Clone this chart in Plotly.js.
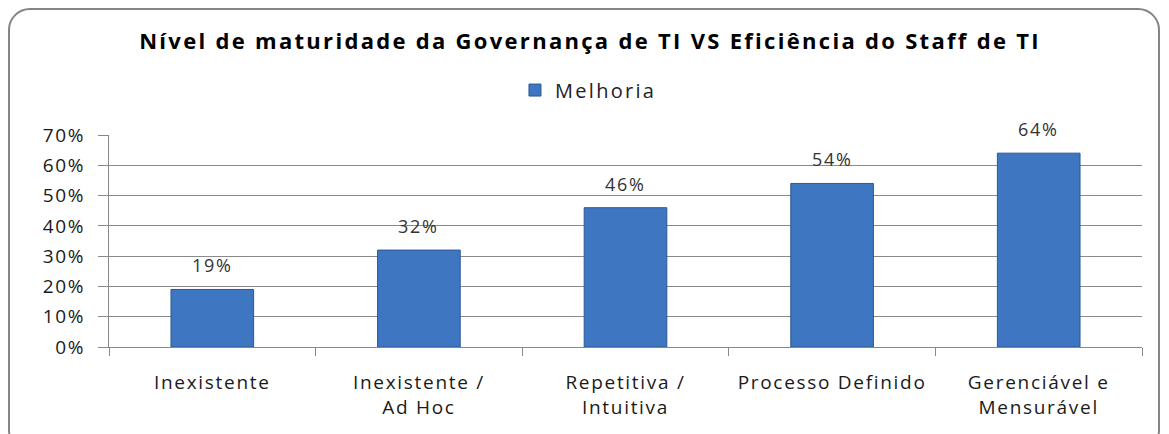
<!DOCTYPE html>
<html><head><meta charset="utf-8">
<script src="https://cdn.plot.ly/plotly-3.0.1.min.js"></script>
<style>
html,body{margin:0;padding:0;background:#fff;}
#frame{position:absolute;left:8px;top:8px;width:1152px;height:445px;border:2px solid #858585;border-radius:22px;box-sizing:border-box;}
#chart{position:absolute;left:0;top:0;width:1169px;height:434px;}
svg text{letter-spacing:1.7px;}
svg g.legend text{letter-spacing:2.3px;}
svg text.gtitle{letter-spacing:2.3px;}
</style></head>
<body>
<div id="frame"></div>
<div id="chart"></div>
<script>
const categories = ["Inexistente", "Inexistente /<br>Ad Hoc", "Repetitiva /<br>Intuitiva", "Processo Definido", "Gerenciável e<br>Mensurável"];
const melhoria = [0.19, 0.32, 0.46, 0.54, 0.64];
const yTickVals = [0, 0.1, 0.2, 0.3, 0.4, 0.5, 0.6, 0.7];
const seriesName = "Melhoria";
const chartTitle = "Nível de maturidade da Governança de TI VS Eficiência do Staff de TI";

const FONT = 'Open Sans, sans-serif';
const trace = {
  type: 'bar', x: categories, y: melhoria, name: seriesName,
  width: 0.4,
  marker: {color: '#3e76c2', line: {color: '#2b5894', width: 1}},
  showlegend: true, hoverinfo: 'none'
};
const annotations = categories.map((c, i) => ({
  x: c, y: melhoria[i], xref: 'x', yref: 'y',
  text: Math.round(melhoria[i] * 100) + '%', showarrow: false,
  yanchor: 'bottom', yshift: 10,
  font: {family: FONT, size: 18, color: '#333'}
}));
const layout = {
  width: 1169, height: 434,
  margin: {l: 109, r: 27, t: 135, b: 87},
  paper_bgcolor: 'rgba(0,0,0,0)', plot_bgcolor: 'rgba(0,0,0,0)',
  title: {text: '<b>' + chartTitle + '</b>', x: 590/1169, xref: 'container', xanchor: 'center', y: 1 - 41/434, yref: 'container', yanchor: 'middle',
          font: {family: FONT, size: 22, color: '#000'}},
  showlegend: true,
  legend: {orientation: 'h', x: 0.393, xanchor: 'left', y: 1.212, yanchor: 'middle',
           font: {family: FONT, size: 20, color: '#222'}, itemwidth: 30},
  annotations: annotations,
  xaxis: {type: 'category', showgrid: false, ticks: 'outside', tickson: 'boundaries', ticklen: 8, tickcolor: '#888',
          showline: true, linecolor: '#888', linewidth: 1, ticklabelstandoff: 18,
          tickfont: {family: FONT, size: 19, color: '#1a1a1a'}, fixedrange: true},
  yaxis: {range: [0, 0.7], tickvals: yTickVals, tickformat: '.0%', showgrid: true, gridcolor: '#8a8a8a', gridwidth: 1,
          ticks: 'outside', ticklen: 10, tickcolor: '#888', showline: true, linecolor: '#888', linewidth: 1,
          zeroline: false, ticklabelstandoff: 9,
          tickfont: {family: FONT, size: 19, color: '#1a1a1a'}, fixedrange: true},
  bargap: 0.6
};
Plotly.newPlot('chart', [trace], layout, {displayModeBar: false, staticPlot: true});
</script>
</body></html>
